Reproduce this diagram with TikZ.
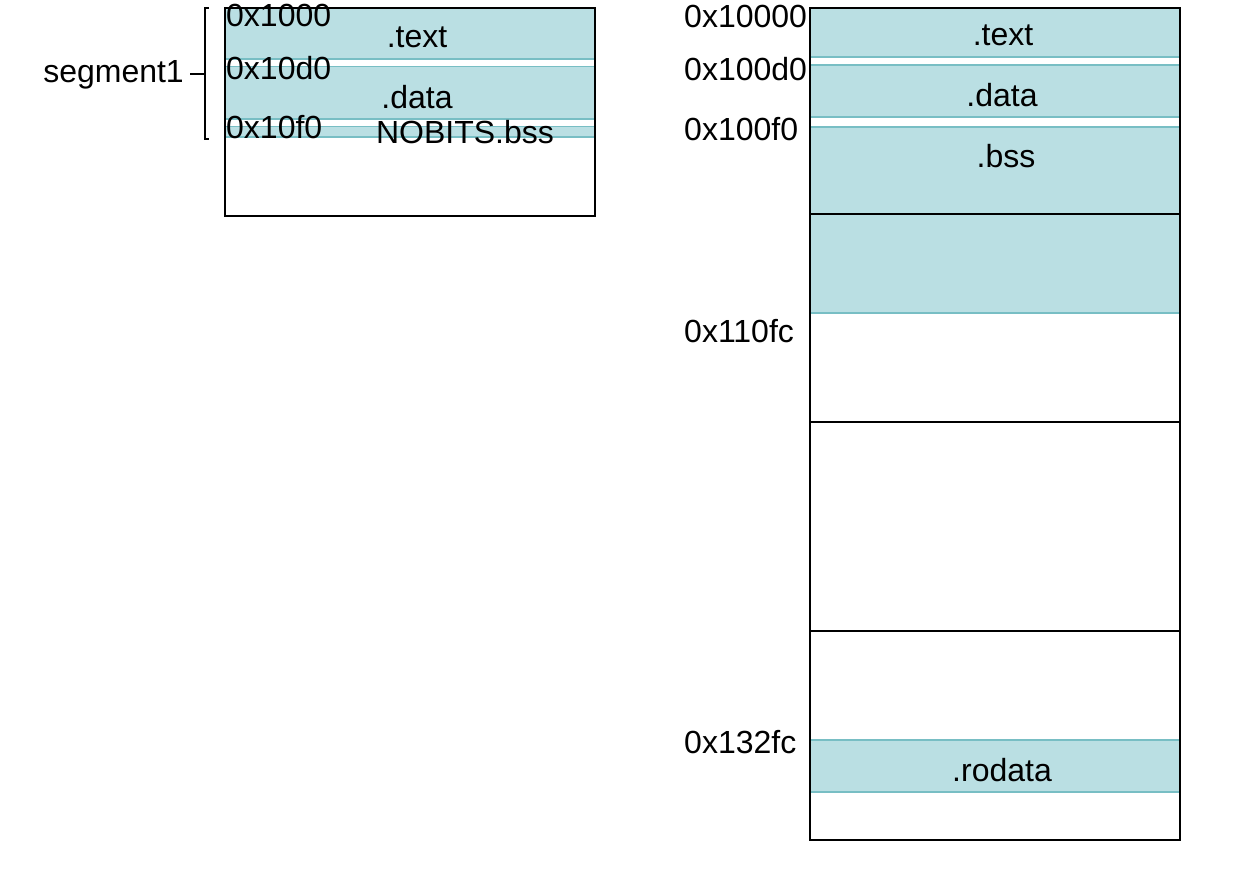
\documentclass[tikz,border=0pt]{standalone}
\usepackage{fontspec}
\setmainfont{Liberation Sans}
\definecolor{bandfill}{RGB}{186,223,227}
\definecolor{bandline}{RGB}{120,190,196}
\begin{document}
\begin{tikzpicture}[x=1pt,y=-1pt,
  lbl/.style={inner sep=0pt,font=\fontsize{32}{37}\selectfont},
  band/.style={fill=bandfill,draw=none},
  bline/.style={draw=bandline,line width=1.5pt},
  frame/.style={draw=black,line width=1.6pt}]
\useasboundingbox (0,0) rectangle (1249,885);
% ---------- left box ----------
\fill[band] (224,7) rectangle (594,59);
\fill[band] (224,66.5) rectangle (594,119);
\fill[band] (224,126.5) rectangle (594,137);
\draw[bline] (224,59) -- (594,59);
\draw[bline] (224,66.5) -- (594,66.5);
\draw[bline] (224,119) -- (594,119);
\draw[bline] (224,126.5) -- (594,126.5);
\draw[bline] (224,137) -- (594,137);
\node[frame,minimum width=370pt,minimum height=208pt,anchor=north west,inner sep=0pt] (lbox) at (224,7) {};
\node[lbl,anchor=west] (l1) at (226,15) {0x1000};
\node[lbl,anchor=west] (l2) at (226,68) {0x10d0};
\node[lbl,anchor=west] (l3) at (226,127) {0x10f0};
\node[lbl] (ltext) at (417,37) {.text};
\node[lbl] (ldata) at (417,97) {.data};
\node[lbl] (lbss) at (465,132) {NOBITS.bss};
% bracket
\coordinate (bt) at (205,8);
\coordinate (bb) at (205,139);
\coordinate (bm) at (205,74);
\coordinate (sege) at (190,74);
\draw[line width=1.3pt] (209,8) -- (bt) -- (bb) -- (209,139);
\node[lbl,anchor=east] (seg) at (184,75) {segment1};
\draw[line width=1.3pt] (sege) -- (bm);
% ---------- right box ----------
\fill[band] (809,7) rectangle (1179,57);
\fill[band] (809,65) rectangle (1179,117);
\fill[band] (809,127) rectangle (1179,313);
\fill[band] (809,740) rectangle (1179,792);
\draw[bline] (809,57) -- (1179,57);
\draw[bline] (809,65) -- (1179,65);
\draw[bline] (809,117) -- (1179,117);
\draw[bline] (809,127) -- (1179,127);
\draw[bline] (809,313) -- (1179,313);
\draw[bline] (809,740) -- (1179,740);
\draw[bline] (809,792) -- (1179,792);
\node[frame,minimum width=370pt,minimum height=832pt,anchor=north west,inner sep=0pt] (rbox) at (809,7) {};
\draw[frame] (809,214) -- (1179,214);
\draw[frame] (809,422) -- (1179,422);
\draw[frame] (809,631) -- (1179,631);
\node[lbl,anchor=west] (r1) at (684,16) {0x10000};
\node[lbl,anchor=west] (r2) at (684,69) {0x100d0};
\node[lbl,anchor=west] (r3) at (684,129) {0x100f0};
\node[lbl,anchor=west] (r4) at (684,331) {0x110fc};
\node[lbl,anchor=west] (r5) at (684,742) {0x132fc};
\node[lbl] (rtext) at (1003,35) {.text};
\node[lbl] (rdata) at (1002,95) {.data};
\node[lbl] (rbss) at (1006,156) {.bss};
\node[lbl] (rrod) at (1002,770) {.rodata};
\end{tikzpicture}
\end{document}
